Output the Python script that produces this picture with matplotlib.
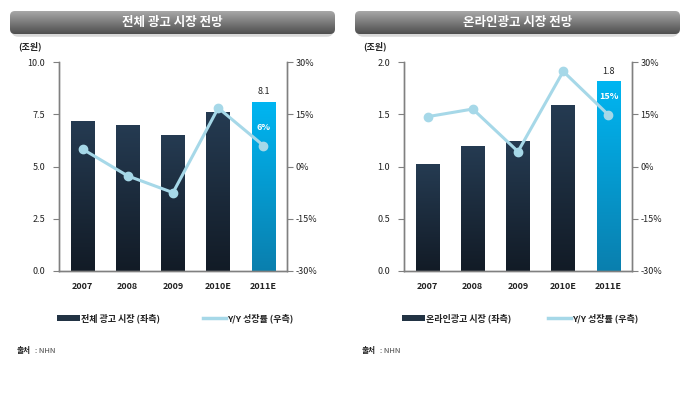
import numpy as np
import matplotlib
matplotlib.use("Agg")
import matplotlib.pyplot as plt
from matplotlib.patches import FancyBboxPatch, Rectangle
from matplotlib.lines import Line2D
from matplotlib.colors import LinearSegmentedColormap

plt.rcParams['font.family'] = ['Noto Sans CJK KR', 'DejaVu Sans']

years = ["2007", "2008", "2009", "2010E", "2011E"]

total_market = [7.2, 7.0, 6.5, 7.6, 8.1]
total_growth = [5.0, -2.7, -7.5, 16.8, 6.0]

online_market = [1.02, 1.2, 1.24, 1.59, 1.82]
online_growth = [14.3, 16.5, 4.3, 27.3, 14.8]

left_ticks_total = [0.0, 2.5, 5.0, 7.5, 10.0]
left_ticks_online = [0.0, 0.5, 1.0, 1.5, 2.0]
right_ticks = [-30, -15, 0, 15, 30]

charts = [
    dict(title="전체 광고 시장 전망", bars=total_market, growth=total_growth,
         lticks=left_ticks_total, ymax=10.0, top_label="8.1", pct_label="6%",
         bar_legend="전체 광고 시장 (좌측)"),
    dict(title="온라인광고 시장 전망", bars=online_market, growth=online_growth,
         lticks=left_ticks_online, ymax=2.0, top_label="1.8", pct_label="15%",
         bar_legend="온라인광고 시장 (좌측)"),
]

W, H = 689, 400
fig = plt.figure(figsize=(W / 100, H / 100), dpi=100)
fig.patch.set_facecolor("white")

dark_cmap = LinearSegmentedColormap.from_list("dk", ["#121b26", "#253b52"])
blue_cmap = LinearSegmentedColormap.from_list("bl", ["#0a7fae", "#00b6f2"])
banner_cmap = LinearSegmentedColormap.from_list("bn", ["#4e4e4e", "#7a7a7a", "#a8a8a8"])
grad = np.linspace(0, 1, 256).reshape(-1, 1)

tick_color = "#222222"
spine_color = "#808080"
line_color = "#a6d8e8"

offsets = [0, 345]
for off, c in zip(offsets, charts):
    # banner
    bx0, bx1, by0, by1 = off + 10, off + 335, 11, 34
    bax = fig.add_axes([bx0 / W, 1 - by1 / H, (bx1 - bx0) / W, (by1 - by0) / H])
    bax.set_xlim(0, 1); bax.set_ylim(0, 1); bax.axis("off")
    sh = FancyBboxPatch((0.005, -0.12), 0.99, 1.0, boxstyle="round,pad=0,rounding_size=0.02",
                        transform=bax.transAxes, facecolor="#d8d8d8", edgecolor="none",
                        mutation_aspect=(bx1 - bx0) / (by1 - by0), clip_on=False, zorder=0)
    bax.add_patch(sh)
    box = FancyBboxPatch((0, 0), 1, 1, boxstyle="round,pad=0,rounding_size=0.015",
                         transform=bax.transAxes, facecolor="none", edgecolor="none",
                         mutation_aspect=(bx1 - bx0) / (by1 - by0), zorder=1)
    bax.add_patch(box)
    im = bax.imshow(grad, extent=[0, 1, 0, 1], origin="lower", cmap=banner_cmap,
                    aspect="auto", zorder=2)
    im.set_clip_path(box)
    bax.text(0.5, 0.48, c["title"], ha="center", va="center", color="white",
             fontsize=9, fontweight="bold", zorder=3)

    # main axes
    ax_l, ax_r, ax_t, ax_b = off + 59, off + 287, 62, 271
    ax = fig.add_axes([ax_l / W, 1 - ax_b / H, (ax_r - ax_l) / W, (ax_b - ax_t) / H])
    ax2 = ax.twinx()
    x = np.arange(len(years))
    bars = ax.bar(x, c["bars"], width=0.52, color="none", edgecolor="none", zorder=2)
    for i, b in enumerate(bars):
        bx, by, bw, bh = b.get_x(), b.get_y(), b.get_width(), b.get_height()
        cmap = blue_cmap if i == len(bars) - 1 else dark_cmap
        img = ax.imshow(grad, extent=[bx, bx + bw, by, by + bh], origin="lower",
                        cmap=cmap, aspect="auto", zorder=2)
        img.set_clip_path(b)
    ax.set_xlim(-0.52, len(years) - 0.48)
    ax.set_ylim(0, c["ymax"])
    ax.set_aspect("auto")

    ax2.plot(x, c["growth"], color=line_color, lw=2.2, marker="o", ms=6,
             markerfacecolor=line_color, markeredgecolor=line_color, zorder=3)
    ax2.set_ylim(-30, 30)

    last = len(years) - 1
    ax.text(last, c["bars"][last] + c["ymax"] * 0.025, c["top_label"], ha="center",
            va="bottom", fontsize=6.5, color=tick_color)
    ax2.text(last, c["growth"][last] + 5.2, c["pct_label"], ha="center", va="center",
             fontsize=6.5, color="white", fontweight="bold", zorder=4)

    ax.set_xticks(x)
    ax.set_xticklabels(years, fontsize=6.5, color=tick_color, fontweight="bold")
    ax.tick_params(axis="x", length=0, pad=8)
    ax.set_yticks(c["lticks"])
    ax.set_yticklabels([f"{v:.1f}" for v in c["lticks"]], fontsize=6.5, color=tick_color)
    ax.tick_params(axis="y", length=4, width=0.8, color=spine_color, pad=6)
    ax2.set_yticks(right_ticks)
    ax2.set_yticklabels([f"{v}%" for v in right_ticks], fontsize=6.5, color=tick_color)
    ax2.tick_params(axis="y", length=4, width=0.8, color=spine_color, pad=2)

    for a in (ax, ax2):
        a.spines["top"].set_visible(False)
        for s in ("left", "right", "bottom"):
            a.spines[s].set_color(spine_color)
            a.spines[s].set_linewidth(1.0)
        a.patch.set_visible(False)

    fig.text((off + 18) / W, 1 - 46 / H, "(조원)", fontsize=6.5, fontweight="bold",
             color=tick_color, ha="left", va="center")

    # legend
    ly = 1 - 318 / H
    fig.patches.append(Rectangle(((off + 57) / W, ly - 3 / H), 23 / W, 6 / H,
                                 transform=fig.transFigure, facecolor="#223344",
                                 edgecolor="none"))
    fig.text((off + 81) / W, ly, c["bar_legend"], fontsize=6.5, fontweight="bold",
             color=tick_color, ha="left", va="center")
    fig.lines.append(Line2D([(off + 203) / W, (off + 226) / W], [ly, ly],
                            transform=fig.transFigure, color=line_color, lw=2.5))
    fig.text((off + 227) / W, ly, "Y/Y 성장률 (우측)", fontsize=6.5, fontweight="bold",
             color=tick_color, ha="left", va="center")

    fig.text((off + 17) / W, 1 - 351 / H, "출처", fontsize=5.5, fontweight="bold",
             color=tick_color, ha="left", va="center")
    fig.text((off + 35) / W, 1 - 351 / H, ": NHN", fontsize=5.5,
             color="#444444", ha="left", va="center")

fig.savefig("out.png", dpi=100, facecolor="white")
